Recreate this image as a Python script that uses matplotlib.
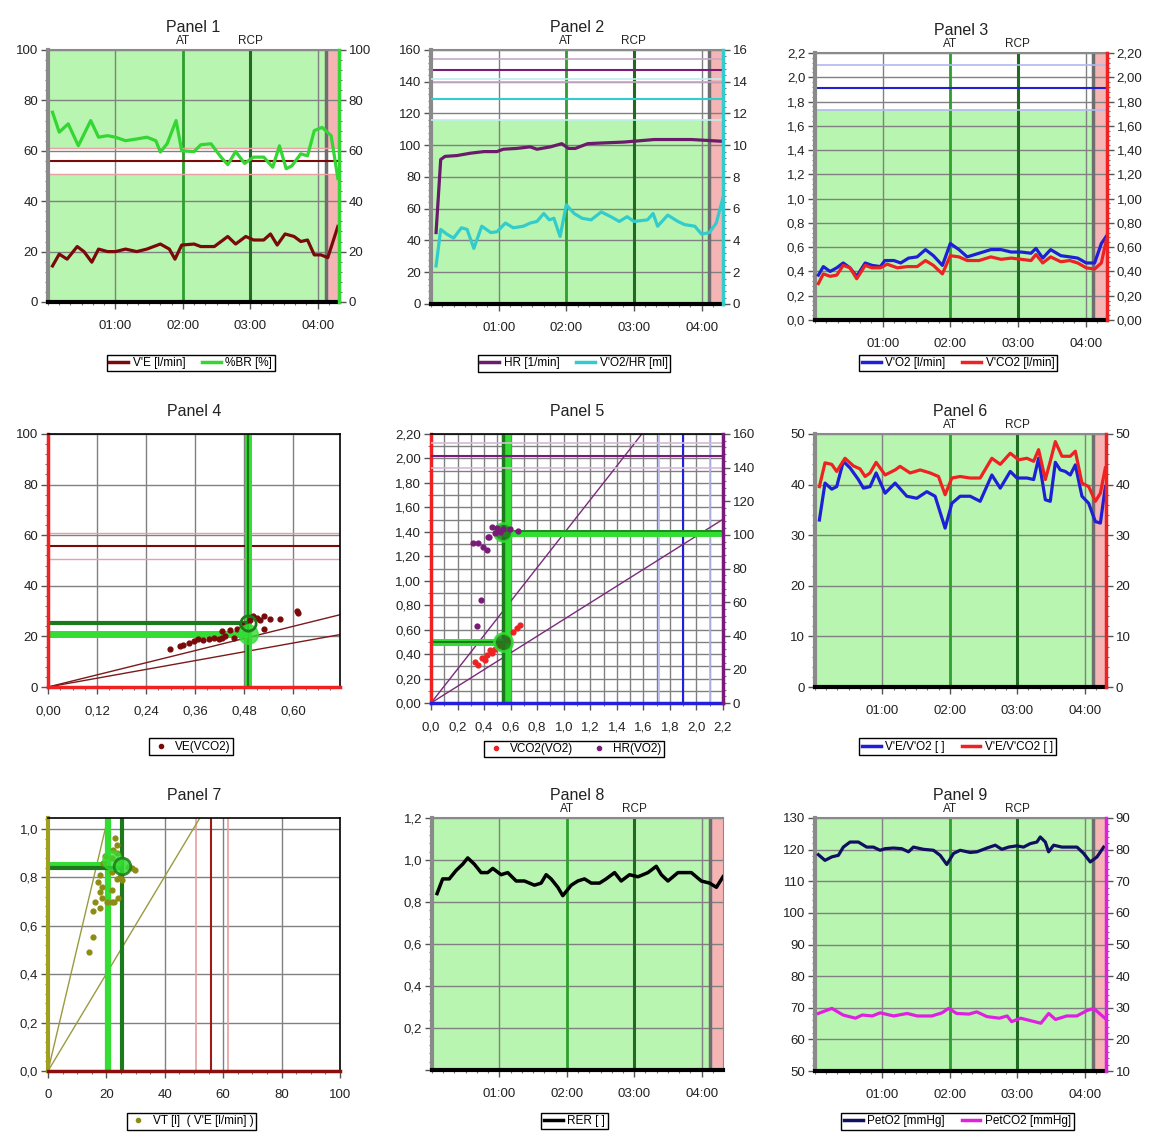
import numpy as np
import matplotlib.pyplot as plt
from matplotlib.ticker import (FuncFormatter, MultipleLocator, AutoMinorLocator,
                               FixedLocator, FixedFormatter)
from matplotlib.lines import Line2D

plt.rcParams['font.family'] = ['Liberation Sans', 'DejaVu Sans']

# ---------------- data ----------------
# time axis (seconds)
time_ticks = [60, 120, 180, 240]
time_labels = ["01:00", "02:00", "03:00", "04:00"]
t_end = 259
t_pink = 248.5
t_stop = 247
t_at = 120
t_rcp = 180

# Panel 1
ve_t = [4, 10, 17, 26, 32, 39, 45, 53, 60, 69, 79, 88, 100, 108, 113, 119, 130, 136, 148, 160,
        167, 176, 183, 192, 198, 204, 211, 219, 225, 231, 237, 243, 249, 258]
ve = [14.3, 19, 17, 22, 20, 15.8, 21, 20, 20, 21, 20, 21, 23, 21, 17, 22.6, 23, 22, 22, 26,
      23, 26, 24.6, 24.6, 27, 22.6, 27, 26, 24, 24.6, 18.7, 18.7, 17.6, 30]
br_t = [4, 10, 18, 27, 38, 45, 53, 60, 69, 79, 88, 96, 100, 106, 114, 119, 130, 136, 145, 154,
        160, 167, 175, 183, 192, 200, 206, 212, 217, 225, 231, 237, 244, 252, 258]
br = [75.3, 67.4, 70.7, 62, 72, 65.4, 66, 65.4, 64, 64.7, 65.4, 64, 59.5, 62.8, 72, 60, 59.7, 62.4, 62.8, 57.5,
      54.5, 59.7, 55, 57.5, 57.5, 53.5, 62, 52.9, 54, 58.8, 58, 68, 69.3, 66, 49]
ve_ref = [50.7, 55.8, 61.0]

# Panel 2
hr_t = [4.5, 8.6, 12.5, 23, 35, 47, 58.5, 64, 76, 88, 94, 106, 116, 122, 128, 139, 154, 171, 198, 231, 246, 258]
hr = [45, 91, 93, 93.5, 95, 96, 96, 97.5, 98, 99, 97.5, 99, 101, 98, 98, 101, 101.5, 102, 103.6, 103.6, 103, 102.5]
o2hr_t = [4.5, 8.6, 14, 20, 27, 32, 38, 45, 53, 58.5, 66, 73, 82, 88, 94, 100, 105, 109, 114.5, 120,
          127, 134, 142, 151, 159.5, 167, 174, 180, 192, 197, 201, 210, 219, 225, 234, 240, 247, 253, 259]
o2hr = [2.4, 4.7, 4.4, 4.15, 4.8, 4.7, 3.5, 4.9, 4.5, 4.55, 5.1, 4.8, 4.9, 5.1, 5.2, 5.7, 5.3, 5.4, 4.25, 6.25,
        5.7, 5.4, 5.3, 5.8, 5.5, 5.2, 5.5, 5.2, 5.3, 5.7, 4.9, 5.6, 5.2, 5.0, 4.9, 4.4, 4.5, 5.1, 6.7]
hr_ref = [139.8, 147.2, 154.5]
o2hr_ref = [11.62, 12.93, 14.15]

# Panel 3
vo2_t = [3, 7.4, 13.4, 19.3, 25, 31, 37, 44.5, 50.5, 58, 62, 70, 76, 83, 90.6, 98, 105, 113, 120, 127.7,
         135, 145.5, 156, 165, 174, 183, 191.6, 196, 202, 209, 218, 226, 233, 240.6, 248, 254, 258.4]
vo2 = [0.37, 0.44, 0.40, 0.43, 0.47, 0.43, 0.36, 0.47, 0.45, 0.44, 0.49, 0.49, 0.47, 0.51, 0.52, 0.58, 0.53, 0.45, 0.63, 0.58,
       0.52, 0.55, 0.58, 0.58, 0.56, 0.56, 0.55, 0.59, 0.51, 0.58, 0.53, 0.52, 0.51, 0.47, 0.47, 0.63, 0.69]
vco2_t = [3, 7.4, 13.4, 19.3, 25, 31, 37, 44.5, 50.5, 58, 64, 73, 82, 90.6, 98, 105, 113, 120, 127.7, 135,
          145.5, 156, 165, 174, 183, 191.6, 196, 202, 209, 218, 226, 233, 240.6, 248, 254, 258.4]
vco2 = [0.30, 0.38, 0.36, 0.37, 0.45, 0.43, 0.34, 0.45, 0.43, 0.43, 0.46, 0.43, 0.44, 0.44, 0.49, 0.45, 0.38, 0.53, 0.52, 0.49,
        0.49, 0.52, 0.50, 0.51, 0.50, 0.49, 0.54, 0.47, 0.52, 0.48, 0.49, 0.47, 0.43, 0.42, 0.47, 0.66]
vo2_ref = [1.73, 1.91, 2.10]

# Panel 4
p4_vco2 = [0.299, 0.322, 0.331, 0.344, 0.356, 0.368, 0.380, 0.393, 0.405, 0.417, 0.425, 0.433, 0.425, 0.445,
           0.454, 0.462, 0.474, 0.494, 0.502, 0.511, 0.519, 0.527, 0.527, 0.543, 0.568, 0.608, 0.612]
p4_ve = [15.0, 16.3, 16.7, 17.4, 18.0, 19.0, 18.7, 19.0, 19.4, 19.0, 19.4, 20.0, 22.0, 22.4,
         19.4, 22.9, 24.6, 26.6, 27.9, 27.3, 26.6, 22.9, 27.9, 26.9, 26.9, 29.9, 29.2]
p4_slopes = [40.0, 29.0]
p4_thr_x = 0.488
p4_thr_y = [21.0, 25.3]

# Panel 5
p5_vo2_a = [0.332, 0.357, 0.382, 0.407, 0.42, 0.445, 0.457, 0.482, 0.52, 0.57, 0.62, 0.646, 0.67]
p5_vco2 = [0.338, 0.311, 0.365, 0.352, 0.39, 0.433, 0.406, 0.439, 0.474, 0.515, 0.583, 0.61, 0.638]
p5_vo2_b = [0.32, 0.357, 0.394, 0.42, 0.432, 0.44, 0.457, 0.482, 0.495, 0.52, 0.545, 0.595, 0.658, 0.375, 0.349]
p5_hr = [95.4, 95, 93, 91, 99, 99, 104.9, 101, 104, 102, 103.3, 103.3, 102.5, 61, 46]
p5_slopes = [1.385, 0.683]
p5_vo2_ref = [1.72, 1.90, 2.10]
p5_thr_x = [0.54, 0.58]
p5_thr_y = [0.495, 1.39]

# Panel 6
eqo2_t = [3.9, 8.9, 14.9, 19.3, 25.2, 31.2, 38.6, 43.1, 49, 54.4, 62.4, 71.3, 81.7, 90.6, 99.5, 106.9, 115.8, 121.8, 129.2, 138.1,
          147, 157.4, 164.9, 173.8, 179.7, 188.6, 194.6, 199, 205, 209.4, 213.9, 218.3, 222.8, 227.2, 231.7, 237.6, 243.6, 249.5, 254, 258.4]
eqo2 = [33, 40.3, 39.1, 39.6, 44.6, 43.3, 41, 39.3, 39.6, 42.3, 38.3, 40.3, 37.7, 37.3, 38.6, 37.7, 31.4, 36.3, 37.7, 37.7,
        36.7, 41.9, 39.3, 42.6, 41.3, 41.3, 41.0, 45.2, 37, 36.7, 44.4, 42.9, 42.6, 41.9, 43.9, 37.7, 36.3, 32.7, 32.4, 39.6]
eqco2_t = [3.9, 8.9, 14.9, 19.3, 26.7, 34.2, 40.1, 44.6, 49, 54.4, 62.4, 71.3, 75.7, 84.7, 93.6, 102.5, 109.9, 115.8, 121.8, 129.2,
           138.1, 147, 157.4, 164.9, 173.8, 181.2, 188.6, 194.6, 199, 205, 209.4, 213.9, 219.8, 227.2, 231.7, 237.6, 243.6, 249.5, 254, 258.4]
eqco2 = [39.6, 44.3, 44.0, 42.6, 45.2, 43.7, 43.1, 41.6, 42.3, 44.4, 41.9, 42.9, 43.6, 42.3, 42.9, 42.3, 41.6, 38.0, 41.3, 41.6,
         41.3, 41.3, 45.2, 44.0, 46.2, 44.9, 45.2, 44.6, 46.9, 41, 44.6, 48.5, 45.6, 45.6, 46.6, 40.3, 39.6, 36.7, 38.3, 43.3]

# Panel 7
p7_ve = [13.9, 15.5, 15.5, 16.1, 17.8, 18.4, 17.8, 18.4, 17.2, 17.8, 18.9, 19.5, 21.8, 22.4, 22.9,
         23.5, 23.5, 21.8, 24.1, 27.5, 28.7, 29.8, 21.8, 24.1, 21.8, 23.5, 25.2, 20.2, 22.5, 24.7]
p7_vt = [0.49, 0.555, 0.659, 0.70, 0.672, 0.714, 0.741, 0.762, 0.782, 0.81, 0.858, 0.886, 0.879, 0.913, 0.962,
         0.934, 0.90, 0.748, 0.714, 0.844, 0.838, 0.831, 0.70, 0.872, 0.82, 0.795, 0.789, 0.70, 0.70, 0.80]
p7_slopes = [0.051, 0.0201]
p7_thr_x = [20.4, 25.3]
p7_thr_y = [0.851, 0.838]

# Panel 8
rer_t = [4.5, 9.5, 15.4, 21.4, 27.3, 31.8, 37.7, 43.7, 49.6, 54.1, 61.5, 67.4, 74.9, 82.3, 91.2, 97.1, 101.6, 106, 112, 116.4,
         123.9, 129.8, 135.7, 141.7, 149.1, 155, 162.5, 168.4, 175.8, 183.3, 192.2, 199.6, 204.1, 210, 218.9, 224.9, 230.8, 239.7, 247.1, 253.1, 259]
rer = [0.84, 0.91, 0.91, 0.95, 0.98, 1.01, 0.98, 0.94, 0.94, 0.96, 0.93, 0.94, 0.90, 0.90, 0.88, 0.89, 0.93, 0.91, 0.87, 0.83,
       0.88, 0.90, 0.91, 0.89, 0.89, 0.91, 0.94, 0.90, 0.93, 0.92, 0.94, 0.97, 0.93, 0.90, 0.94, 0.94, 0.94, 0.90, 0.89, 0.87, 0.92]

# Panel 9
peto2_t = [3, 8.9, 14.9, 20.8, 25.2, 31.2, 38.6, 46, 52, 57.9, 62.4, 69.8, 77.2, 83.2, 87.6, 96.5, 105.4, 111.4, 117.3, 123.3,
           129.2, 138.1, 144.1, 153, 160.4, 166.3, 172.3, 179.7, 185.6, 191.6, 197.5, 200.5, 205, 207.9, 212.4, 219.8, 227.2, 233.2,
           239.1, 245, 251, 256.9]
peto2 = [118.4, 116.6, 117.7, 118.2, 120.8, 122.4, 122.4, 120.8, 120.8, 119.8, 120.3, 120.5, 120.3, 119.3, 120.8, 120.1, 119.8, 118.2, 115.3, 118.8,
         119.8, 119.1, 119.3, 120.5, 121.4, 120.1, 120.8, 121.2, 120.8, 121.9, 122.4, 124.0, 122.4, 119.3, 121.4, 120.8, 120.8, 120.8,
         118.8, 116.1, 117.7, 120.8]
petco2_t = [3, 15, 25, 36, 42, 51, 58, 70, 82, 91, 104, 113, 119, 126, 137, 144, 153, 164, 171, 175,
            183, 192, 201, 208, 214, 224, 233, 242, 248, 258]
petco2 = [28.2, 29.8, 27.7, 26.7, 27.7, 27.4, 28.4, 27.4, 28.2, 27.4, 27.4, 28.4, 29.8, 28.2, 28.0, 28.7, 27.2, 26.7, 27.4, 25.6,
          26.7, 25.9, 25.1, 28.2, 26.3, 27.4, 27.4, 29.1, 29.8, 26.7]

# ---------------- styling ----------------
BG = '#b8f5b0'
PINK = '#f5b5b5'
GRID = '#808080'
AT_C = '#2f9f2f'
RCP_C = '#1f6b1f'
STOP_C = '#6e6e6e'
BRIGHT = '#33dd33'
DARK = '#1c7a1c'
TXT = '#222222'
TICK_FS = 9.5

W, H = 1149, 1133
fig = plt.figure(figsize=(W / 100, H / 100), dpi=100)


def px_box(l, t, r, b):
    return [l / W, 1 - b / H, (r - l) / W, (b - t) / H]


def comma(nd):
    return FuncFormatter(lambda v, p: f"{v:.{nd}f}".replace(".", ","))


def style_ticks(ax):
    ax.tick_params(axis='both', which='major', length=5, width=1, color='#555555',
                   labelsize=TICK_FS, labelcolor=TXT, pad=2)
    ax.tick_params(axis='both', which='minor', length=2.5, width=0.8, color='#777777')
    ax.tick_params(axis='x', which='major', pad=8)


def time_panel(box, ylim, ystep, title, nd=None):
    ax = fig.add_axes(px_box(*box))
    ax.set_facecolor(BG)
    ax.set_axisbelow('line')
    ax.set_xlim(0, t_end)
    ax.set_ylim(*ylim)
    ax.yaxis.set_major_locator(MultipleLocator(ystep))
    ax.yaxis.set_minor_locator(AutoMinorLocator(5))
    if nd is not None:
        ax.yaxis.set_major_formatter(comma(nd))
    ax.xaxis.set_major_locator(FixedLocator(time_ticks))
    ax.xaxis.set_major_formatter(FixedFormatter(time_labels))
    ax.xaxis.set_minor_locator(MultipleLocator(10))
    ax.grid(True, which='major', color=GRID, lw=1)
    ax.axvspan(t_pink, t_end, color=PINK, lw=0, zorder=1.2)
    ax.axvline(t_stop, color=STOP_C, lw=2.5, zorder=1.7)
    ax.axvline(t_at, color=AT_C, lw=2, zorder=1.7)
    ax.axvline(t_rcp, color=RCP_C, lw=2.2, zorder=1.7)
    tr = ax.get_xaxis_transform()
    ax.text(t_at, 1.012, 'AT', transform=tr, ha='center', va='bottom', fontsize=8.5, color=TXT)
    ax.text(t_rcp, 1.012, 'RCP', transform=tr, ha='center', va='bottom', fontsize=8.5, color=TXT)
    ax.set_title(title, fontsize=11.5, pad=13, color=TXT)
    ax.spines['left'].set_color('#8a8a8a')
    ax.spines['left'].set_linewidth(3)
    ax.spines['top'].set_color('#8a8a8a')
    ax.spines['top'].set_linewidth(1.5)
    ax.spines['right'].set_color('#8a8a8a')
    ax.spines['bottom'].set_color('black')
    ax.spines['bottom'].set_linewidth(3)
    style_ticks(ax)
    return ax


def right_axis(ax, ylim, ystep, color, nd=None):
    ax2 = ax.twinx()
    ax2.set_ylim(*ylim)
    ax2.yaxis.set_major_locator(MultipleLocator(ystep))
    ax2.yaxis.set_minor_locator(AutoMinorLocator(5))
    if nd is not None:
        ax2.yaxis.set_major_formatter(comma(nd))
    for s in ('left', 'top', 'bottom'):
        ax2.spines[s].set_visible(False)
    ax2.spines['right'].set_color(color)
    ax2.spines['right'].set_linewidth(2.5)
    style_ticks(ax2)
    return ax2


def add_legend(ax, handles, labels, y, x=0.49):
    leg = ax.legend(handles, labels, loc='upper center', bbox_to_anchor=(x, y), ncol=len(handles),
                    fontsize=8.5, frameon=True, fancybox=False, edgecolor='black', framealpha=1,
                    handlelength=1.6, handletextpad=0.4, columnspacing=1.4, borderpad=0.2)
    leg.get_frame().set_linewidth(1)
    return leg


def line_handle(c):
    return Line2D([], [], color=c, lw=2.5)


def dot_handle(c):
    return Line2D([], [], ls='', marker='o', ms=3, color=c)


# ---------------- Panel 1 ----------------
ax = time_panel((48, 50, 339, 302), (0, 100), 20, 'Panel 1')
ax.axhspan(ve_ref[0], ve_ref[2], color='white', lw=0, zorder=1.3)
ax.axhline(ve_ref[0], color='#e8a0a0', lw=1, zorder=1.8)
ax.axhline(ve_ref[2], color='#e8a0a0', lw=1, zorder=1.8)
ax.axhline(ve_ref[1], color='#7a0a0a', lw=1.5, zorder=1.8)
ax.plot(ve_t, ve, color='#7a0a0a', lw=2.3, zorder=3)
ax2 = right_axis(ax, (0, 100), 20, '#33d633')
ax2.plot(br_t, br, color='#33d633', lw=2.3)
add_legend(ax, [line_handle('#7a0a0a'), line_handle('#33d633')], ["V'E [l/min]", "%BR [%]"], -0.186)

# ---------------- Panel 2 ----------------
ax = time_panel((431, 50, 723, 304), (0, 160), 20, 'Panel 2')
ax.axhspan(116.2, 160, color='white', lw=0, zorder=1.1)
ax.axhline(hr_ref[0], color='#c8a8c8', lw=1.2, zorder=1.8)
ax.axhline(hr_ref[2], color='#c8a8c8', lw=1.2, zorder=1.8)
ax.axhline(hr_ref[1], color='#7a1a7a', lw=1.5, zorder=1.8)
ax.plot(hr_t, hr, color='#6a1b6a', lw=2.3, zorder=3)
ax2 = right_axis(ax, (0, 16), 2, '#33cccc')
ax2.axhline(o2hr_ref[0], color='#bfeeee', lw=1.2)
ax2.axhline(o2hr_ref[2], color='#bfeeee', lw=1.2)
ax2.axhline(o2hr_ref[1], color='#33cccc', lw=1.5)
ax2.plot(o2hr_t, o2hr, color='#33cccc', lw=2.3)
add_legend(ax, [line_handle('#6a1b6a'), line_handle('#33cccc')], ["HR [1/min]", "V'O2/HR [ml]"], -0.177)

# ---------------- Panel 3 ----------------
ax = time_panel((815, 53, 1107, 320), (0, 2.2), 0.2, 'Panel 3', nd=1)
ax.axhspan(vo2_ref[0], 2.2, color='white', lw=0, zorder=1.1)
ax.axhline(vo2_ref[0], color='#b0b8f0', lw=1.2, zorder=1.8)
ax.axhline(vo2_ref[2], color='#b0b8f0', lw=1.2, zorder=1.8)
ax.axhline(vo2_ref[1], color='#2020cc', lw=1.5, zorder=1.8)
ax.plot(vo2_t, vo2, color='#1f1fd6', lw=2.3, zorder=3)
ax2 = right_axis(ax, (0, 2.2), 0.2, '#ee2222', nd=2)
ax2.plot(vco2_t, vco2, color='#ee2222', lw=2.3)
add_legend(ax, [line_handle('#1f1fd6'), line_handle('#ee2222')], ["V'O2 [l/min]", "V'CO2 [l/min]"], -0.108)


def scatter_frame(box, title):
    ax = fig.add_axes(px_box(*box))
    ax.set_facecolor('white')
    ax.set_axisbelow(True)
    ax.set_title(title, fontsize=11.5, pad=13, color=TXT)
    for s in ('top', 'right'):
        ax.spines[s].set_color('black')
        ax.spines[s].set_linewidth(1.2)
    style_ticks(ax)
    return ax


# ---------------- Panel 4 ----------------
ax = scatter_frame((48, 434, 340, 687), 'Panel 4')
ax.set_xlim(0, 0.714)
ax.set_ylim(0, 100)
ax.xaxis.set_major_locator(MultipleLocator(0.12))
ax.xaxis.set_minor_locator(MultipleLocator(0.03))
ax.xaxis.set_major_formatter(comma(2))
ax.yaxis.set_major_locator(MultipleLocator(20))
ax.yaxis.set_minor_locator(AutoMinorLocator(5))
ax.grid(True, which='major', color=GRID, lw=1)
for s in ('left', 'bottom'):
    ax.spines[s].set_color('#ee2222')
    ax.spines[s].set_linewidth(2.5)
ax.axhline(ve_ref[0], color='#e8a0a0', lw=1)
ax.axhline(ve_ref[2], color='#e8a0a0', lw=1)
ax.axhline(ve_ref[1], color='#7a0a0a', lw=1.5)
for s in p4_slopes:
    ax.axline((0, 0), slope=s, color='#7a1a1a', lw=1)
ax.axvline(p4_thr_x, color=BRIGHT, lw=5)
ax.axvline(p4_thr_x, color=DARK, lw=1.5)
ax.hlines(p4_thr_y[0], 0, p4_thr_x, color=BRIGHT, lw=5)
ax.hlines(p4_thr_y[1], 0, p4_thr_x, color=DARK, lw=3)
ax.scatter(p4_vco2, p4_ve, s=12, color='#7a0a0a', zorder=4)
ax.plot(p4_thr_x, p4_thr_y[0], 'o', ms=14, mfc=BRIGHT, mec=BRIGHT, alpha=0.8, zorder=5)
ax.plot(p4_thr_x, p4_thr_y[1], 'o', ms=11, mfc='none', mec=DARK, mew=2, zorder=5)
add_legend(ax, [dot_handle('#7a0a0a')], ["VE(VCO2)"], -0.18)

# ---------------- Panel 5 ----------------
ax = scatter_frame((431, 434, 723, 703), 'Panel 5')
ax.set_xlim(0, 2.2)
ax.set_ylim(0, 2.2)
ax.xaxis.set_major_locator(MultipleLocator(0.2))
ax.xaxis.set_minor_locator(MultipleLocator(0.1))
ax.xaxis.set_major_formatter(comma(1))
ax.yaxis.set_major_locator(MultipleLocator(0.2))
ax.yaxis.set_minor_locator(MultipleLocator(0.1))
ax.yaxis.set_major_formatter(comma(2))
ax.grid(True, which='both', color=GRID, lw=1)
ax.spines['left'].set_color('#ee2222')
ax.spines['left'].set_linewidth(2.5)
ax.spines['bottom'].set_color('#2020dd')
ax.spines['bottom'].set_linewidth(2.5)
ax.axvline(p5_vo2_ref[0], color='#b0b8f0', lw=1.2)
ax.axvline(p5_vo2_ref[2], color='#b0b8f0', lw=1.2)
ax.axvline(p5_vo2_ref[1], color='#2020dd', lw=1.5)
for s in p5_slopes:
    ax.axline((0, 0), slope=s, color='#7a2a7a', lw=1)
ax.axvline(p5_thr_x[1], color=BRIGHT, lw=4.5)
ax.axvline(p5_thr_x[0], color=DARK, lw=2.5)
ax.hlines(p5_thr_y[0], 0, p5_thr_x[0], color=BRIGHT, lw=5)
ax.hlines(p5_thr_y[0], 0, p5_thr_x[0], color=DARK, lw=1.5)
ax.hlines(p5_thr_y[1], p5_thr_x[0], 2.2, color=BRIGHT, lw=5)
ax.hlines(p5_thr_y[1] + 0.015, p5_thr_x[0], 2.2, color=DARK, lw=1.2)
ax.scatter(p5_vo2_a, p5_vco2, s=12, color='#ee2222', zorder=4)
ax.plot(p5_thr_x[0], p5_thr_y[0], 'o', ms=13, mfc=DARK, mec=BRIGHT, mew=2, alpha=0.85, zorder=5)
ax.plot(p5_thr_x[0], p5_thr_y[1] + 0.01, 'o', ms=13, mfc=DARK, mec=BRIGHT, mew=2, alpha=0.85, zorder=5)
ax2 = ax.twinx()
ax2.set_ylim(0, 160)
ax2.yaxis.set_major_locator(MultipleLocator(20))
ax2.yaxis.set_minor_locator(AutoMinorLocator(5))
for s in ('left', 'top', 'bottom'):
    ax2.spines[s].set_visible(False)
ax2.spines['right'].set_color('#7a1a7a')
ax2.spines['right'].set_linewidth(2.5)
style_ticks(ax2)
ax2.axhline(hr_ref[0], color='#d8b8d8', lw=1.2)
ax2.axhline(hr_ref[2], color='#d8b8d8', lw=1.2)
ax2.axhline(hr_ref[1], color='#7a1a7a', lw=1.5)
ax2.scatter(p5_vo2_b, p5_hr, s=12, color='#7a1a7a', zorder=4)
add_legend(ax, [dot_handle('#ee2222'), dot_handle('#7a1a7a')], ["VCO2(VO2)", "HR(VO2)"], -0.118)

# ---------------- Panel 6 ----------------
ax = time_panel((815, 434, 1106, 687), (0, 50), 10, 'Panel 6')
ax.plot(eqo2_t, eqo2, color='#1f1fd6', lw=2.3, zorder=3)
ax2 = right_axis(ax, (0, 50), 10, '#ee2222')
ax2.plot(eqco2_t, eqco2, color='#ee2222', lw=2.3)
add_legend(ax, [line_handle('#1f1fd6'), line_handle('#ee2222')], ["V'E/V'O2 [ ]", "V'E/V'CO2 [ ]"], -0.18)

# ---------------- Panel 7 ----------------
ax = scatter_frame((48, 818, 340, 1071), 'Panel 7')
ax.set_xlim(0, 100)
ax.set_ylim(0, 1.045)
ax.xaxis.set_major_locator(MultipleLocator(20))
ax.xaxis.set_minor_locator(MultipleLocator(5))
ax.yaxis.set_major_locator(MultipleLocator(0.2))
ax.yaxis.set_minor_locator(AutoMinorLocator(5))
ax.yaxis.set_major_formatter(comma(1))
ax.grid(True, which='major', color=GRID, lw=1)
ax.spines['left'].set_color('#a0a020')
ax.spines['left'].set_linewidth(3)
ax.spines['bottom'].set_color('#8a1010')
ax.spines['bottom'].set_linewidth(2.5)
ax.axvline(ve_ref[0], color='#e8a0a0', lw=1.2)
ax.axvline(ve_ref[2] + 0.6, color='#e8a0a0', lw=1.2)
ax.axvline(ve_ref[1], color='#a01818', lw=1.5)
for s in p7_slopes:
    ax.axline((0, 0), slope=s, color='#9a9a40', lw=1)
ax.axvline(p7_thr_x[0], color=BRIGHT, lw=4.5)
ax.axvline(p7_thr_x[1], color=DARK, lw=3)
ax.hlines(p7_thr_y[0], 0, p7_thr_x[0], color=BRIGHT, lw=5)
ax.hlines(p7_thr_y[1], 0, p7_thr_x[1], color=DARK, lw=3)
ax.scatter(p7_ve, p7_vt, s=12, color='#8c8c14', zorder=4)
ax.plot(p7_thr_x[0] + 1.5, p7_thr_y[0] + 0.02, 'o', ms=14, mfc=BRIGHT, mec=BRIGHT, alpha=0.75, zorder=5)
ax.plot(p7_thr_x[1], p7_thr_y[1] + 0.007, 'o', ms=12, mfc=BRIGHT, mec=DARK, mew=2, alpha=0.85, zorder=5)
add_legend(ax, [dot_handle('#8c8c14')], ["VT [l]  ( V'E [l/min] )"], -0.142)

# ---------------- Panel 8 ----------------
ax = time_panel((432, 818, 723, 1070), (0, 1.2), 0.2, 'Panel 8', nd=1)
ax.yaxis.set_major_formatter(FuncFormatter(lambda v, p: '' if abs(v) < 1e-9 else f"{v:.1f}".replace('.', ',')))
ax.plot(rer_t, rer, color='black', lw=2.5, zorder=3)
add_legend(ax, [line_handle('black')], ["RER [ ]"], -0.146)

# ---------------- Panel 9 ----------------
ax = time_panel((815, 818, 1106, 1071), (50, 130), 10, 'Panel 9')
ax.plot(peto2_t, peto2, color='#101060', lw=2.3, zorder=3)
ax2 = right_axis(ax, (10, 90), 10, '#e020e0')
ax2.plot(petco2_t, petco2, color='#e020e0', lw=2.3)
add_legend(ax, [line_handle('#101060'), line_handle('#e020e0')], ["PetO2 [mmHg]", "PetCO2 [mmHg]"], -0.142)

fig.savefig('out.png', dpi=100)
